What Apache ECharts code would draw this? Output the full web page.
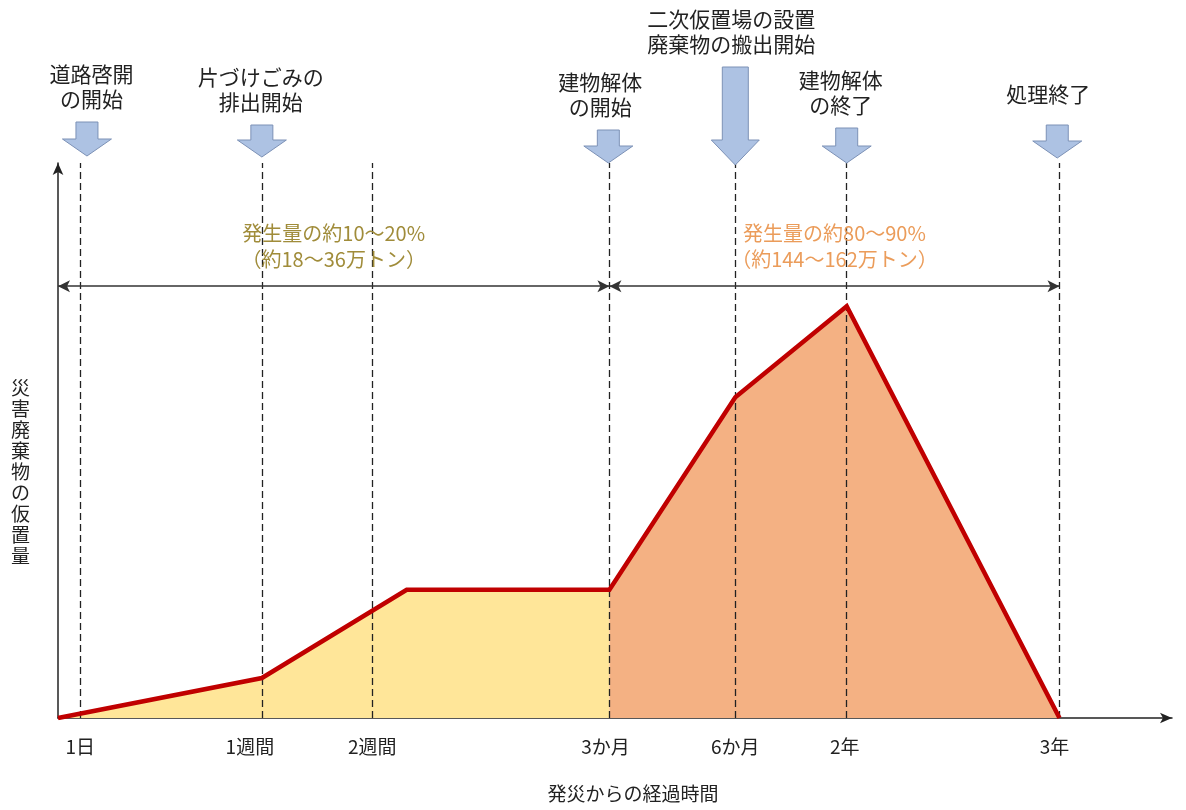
<!DOCTYPE html>
<html lang="ja">
<head>
<meta charset="utf-8">
<title>災害廃棄物の仮置量の推移</title>
<script src="https://cdn.jsdelivr.net/npm/echarts@6/dist/echarts.min.js"></script>
<style>
  html, body { margin: 0; padding: 0; background: #ffffff; }
  #chart { width: 1186px; height: 810px; }
</style>
</head>
<body>
<div id="chart"></div>
<script>
// Time stages along the (non-linear) time axis, as positions on a 0–100 scale
const stageLabels = ['1日', '1週間', '2週間', '3か月', '6か月', '2年', '3年'];
const stageX = [2.0, 18.3, 28.2, 49.5, 60.8, 70.8, 89.9];

// Temporary storage volume curve (relative units, 0–100)
const curveX = [0, 18.3, 31.3, 49.5, 60.8, 70.8, 89.9];
const curveY = [0, 7.2, 23.1, 23.1, 57.8, 74.2, 0];

// Phase split: early phase until building demolition starts, then main phase
const phaseSplitX = 49.5;

// Milestone events marked with block arrows
const eventNames = ['道路啓開\nの開始', '片づけごみの\n排出開始', '建物解体\nの開始', '二次仮置場の設置\n廃棄物の搬出開始', '建物解体\nの終了', '処理終了'];
const eventX = [2.6, 18.3, 49.4, 60.8, 70.8, 89.7];

// Share of total generated waste in each phase
const phaseTexts = ['発生量の約10～20%\n（約18～36万トン）', '発生量の約80～90%\n（約144～162万トン）'];
const phaseLevel = 77.8;

const xAxisName = '発災からの経過時間';
const yAxisName = '災害廃棄物の仮置量';

// Arrow layout (pixels relative to the top of the plot area)
const arrowLayout = {
  top:  [-41, -38, -33, -96, -35, -38],
  tip:  [-7, -6, 0, 2, 0, -5],
  big:  [false, false, false, true, false, false],
  textGap: [10, 10, 10, 10, 10, 18],
  textDx: [4.5, -1, -8, -4, -6, -9]
};

// Horizontal nudges for the stage labels under the axis
const stageLabelPad = [0, 24, 0, 8, 0, 4, 10];

const FONT = '"Noto Sans CJK JP", "Noto Sans", sans-serif';
const TEXT_COLOR = '#222222';

const leftArea = [];
const rightArea = [];
const curve = [];
curveX.forEach((x, i) => {
  curve.push([x, curveY[i]]);
  if (x <= phaseSplitX) leftArea.push([x, curveY[i]]);
  if (x >= phaseSplitX) rightArea.push([x, curveY[i]]);
});

const labelIndex = {};
stageX.forEach((x, i) => { labelIndex[x] = i; });

const richStyles = {};
stageLabels.forEach((t, i) => {
  richStyles['s' + i] = {
    fontSize: 19,
    color: TEXT_COLOR,
    fontFamily: FONT,
    padding: [0, stageLabelPad[i], 0, 0]
  };
});

const phaseBounds = [0, phaseSplitX, curveX[curveX.length - 1]];
const phaseColors = ['#a08c3a', '#eb9c5a'];

const chart = echarts.init(document.getElementById('chart'), null, { renderer: 'canvas' });

chart.setOption({
  animation: false,
  backgroundColor: '#ffffff',
  textStyle: { fontFamily: FONT },
  grid: { left: 58, right: 14, top: 163, bottom: 92 },
  xAxis: {
    type: 'value',
    min: 0,
    max: 100,
    name: xAxisName,
    nameLocation: 'middle',
    nameGap: 66,
    nameTextStyle: { fontSize: 19, color: TEXT_COLOR, fontFamily: FONT, padding: [0, 0, 0, 36] },
    axisLine: {
      show: true,
      onZero: false,
      symbol: ['none', 'arrow'],
      symbolSize: [8, 12],
      lineStyle: { color: '#222222', width: 1.5 }
    },
    axisTick: { show: false },
    splitLine: { show: false },
    axisLabel: {
      customValues: stageX,
      margin: 19,
      fontSize: 19,
      color: TEXT_COLOR,
      fontFamily: FONT,
      rich: richStyles,
      formatter: v => {
        const i = labelIndex[v];
        return i === undefined ? '' : '{s' + i + '|' + stageLabels[i] + '}';
      }
    }
  },
  yAxis: {
    type: 'value',
    min: 0,
    max: 100,
    axisLine: {
      show: true,
      onZero: false,
      symbol: ['none', 'arrow'],
      symbolSize: [8, 12],
      lineStyle: { color: '#222222', width: 1.5 }
    },
    axisTick: { show: false },
    axisLabel: { show: false },
    splitLine: { show: false }
  },
  graphic: [{
    type: 'text',
    left: 11,
    top: 377,
    style: {
      text: yAxisName.split('').join('\n'),
      font: '19px ' + FONT,
      fill: TEXT_COLOR,
      lineHeight: 21,
      align: 'center'
    }
  }],
  series: [
    {
      name: '初期',
      type: 'line',
      data: leftArea,
      symbol: 'none',
      lineStyle: { width: 0 },
      areaStyle: { color: '#ffe699', opacity: 1 },
      z: 1,
      silent: true
    },
    {
      name: '本格期',
      type: 'line',
      data: rightArea,
      symbol: 'none',
      lineStyle: { width: 0 },
      areaStyle: { color: '#f4b183', opacity: 1 },
      z: 1,
      silent: true,
      markLine: {
        silent: true,
        symbol: 'none',
        z: 3,
        label: { show: false },
        lineStyle: { color: '#222222', type: [7, 4], width: 1.3 },
        data: stageX.map(x => ({ xAxis: x }))
      }
    },
    {
      name: '仮置量',
      type: 'line',
      data: curve,
      symbol: 'none',
      lineStyle: { color: '#c00000', width: 4.5, join: 'miter' },
      z: 4,
      silent: true,
      markLine: {
        silent: true,
        symbol: ['arrow', 'arrow'],
        symbolSize: [9, 12],
        lineStyle: { color: '#333333', type: 'solid', width: 1.5 },
        data: [0, 1].map(i => [
          {
            coord: [phaseBounds[i], phaseLevel],
            label: {
              show: true,
              position: 'middle',
              distance: 14,
              formatter: phaseTexts[i],
              color: phaseColors[i],
              fontSize: 20,
              lineHeight: 26,
              fontFamily: FONT
            }
          },
          { coord: [phaseBounds[i + 1], phaseLevel] }
        ])
      }
    },
    {
      name: 'イベント',
      type: 'custom',
      clip: false,
      silent: true,
      z: 5,
      data: eventX.map(x => [x, 100]),
      encode: { x: 0, y: 1 },
      renderItem: (params, api) => {
        const i = params.dataIndex;
        const p = api.coord([api.value(0), 100]);
        const cx = p[0];
        const top = p[1] + arrowLayout.top[i];
        const tip = p[1] + arrowLayout.tip[i];
        const big = arrowLayout.big[i];
        const sw = big ? 13 : 11;
        const hw = big ? 24 : 24.5;
        const hh = big ? 25 : 17;
        const pts = [
          [cx - sw, top], [cx + sw, top], [cx + sw, tip - hh], [cx + hw, tip - hh],
          [cx, tip], [cx - hw, tip - hh], [cx - sw, tip - hh]
        ];
        return {
          type: 'group',
          children: [
            {
              type: 'polygon',
              shape: { points: pts },
              style: { fill: '#adc2e3', stroke: '#7c91b6', lineWidth: 1 }
            },
            {
              type: 'text',
              x: cx + arrowLayout.textDx[i],
              y: top - arrowLayout.textGap[i],
              style: {
                text: eventNames[i],
                font: '21px ' + FONT,
                fill: TEXT_COLOR,
                align: 'center',
                verticalAlign: 'bottom',
                lineHeight: 25
              }
            }
          ]
        };
      }
    }
  ]
});
</script>
</body>
</html>
